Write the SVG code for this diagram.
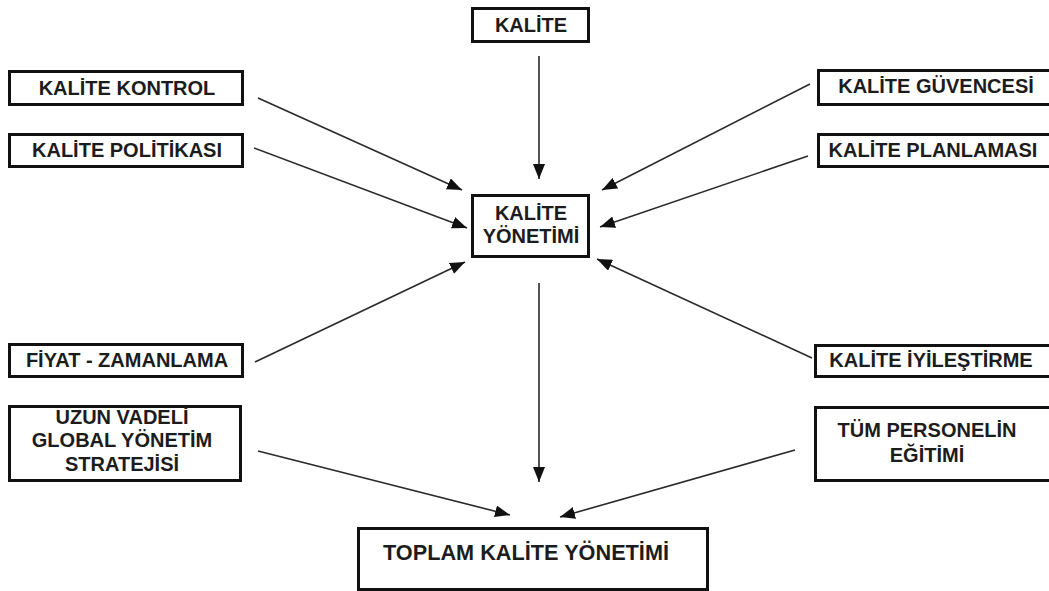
<svg xmlns="http://www.w3.org/2000/svg" width="1049" height="591" viewBox="0 0 1049 591">
  <style>
    .box { fill: #ffffff; stroke: #111111; stroke-width: 3; }
    .lbl { font-family: "Liberation Sans", Arial, sans-serif; font-weight: bold; font-size: 20px; fill: #1c1c1c; text-anchor: middle; }
    .big { font-size: 21.7px; }
    .edge { stroke: #2a2a2a; stroke-width: 1.6; fill: none; marker-end: url(#arrow); }
  </style>
  <defs>
    <marker id="arrow" markerUnits="userSpaceOnUse" markerWidth="16" markerHeight="12" refX="15" refY="6" orient="auto">
      <path d="M0,0 L15,6 L0,12 z" fill="#111111"/>
    </marker>
  </defs>
  <rect width="1049" height="591" fill="#ffffff"/>

  <!-- connectors -->
  <g id="connectors">
    <line class="edge" x1="539" y1="56" x2="539" y2="179"/>
    <line class="edge" x1="258" y1="98" x2="462" y2="190"/>
    <line class="edge" x1="254" y1="148" x2="467" y2="228"/>
    <line class="edge" x1="810" y1="84" x2="602" y2="190"/>
    <line class="edge" x1="808" y1="156" x2="600" y2="227"/>
    <line class="edge" x1="255" y1="362" x2="465" y2="262"/>
    <line class="edge" x1="812" y1="358" x2="597" y2="259"/>
    <line class="edge" x1="539" y1="283" x2="539" y2="482"/>
    <line class="edge" x1="258" y1="451" x2="510" y2="515"/>
    <line class="edge" x1="795" y1="450" x2="560" y2="517"/>
  </g>

  <!-- nodes -->
  <g id="kalite">
    <rect class="box" x="472.5" y="8.5" width="116" height="33"/>
    <text class="lbl" x="531" y="32">KALİTE</text>
  </g>
  <g id="kalite-kontrol">
    <rect class="box" x="9.5" y="71.5" width="233" height="33"/>
    <text class="lbl" x="127" y="95">KALİTE KONTROL</text>
  </g>
  <g id="kalite-politikasi">
    <rect class="box" x="9.5" y="134.5" width="233" height="32"/>
    <text class="lbl" x="127" y="157">KALİTE POLİTİKASI</text>
  </g>
  <g id="kalite-guvencesi">
    <rect class="box" x="818.5" y="70.5" width="232" height="34"/>
    <text class="lbl" x="936" y="93">KALİTE GÜVENCESİ</text>
  </g>
  <g id="kalite-planlamasi">
    <rect class="box" x="818.5" y="134.5" width="232" height="32"/>
    <text class="lbl" x="933" y="157">KALİTE PLANLAMASI</text>
  </g>
  <g id="kalite-yonetimi">
    <rect class="box" x="472.5" y="195.5" width="116" height="61"/>
    <text class="lbl" x="531" y="220">KALİTE</text>
    <text class="lbl" x="531" y="243">YÖNETİMİ</text>
  </g>
  <g id="fiyat-zamanlama">
    <rect class="box" x="9.5" y="344.5" width="233" height="32"/>
    <text class="lbl" x="127" y="367">FİYAT - ZAMANLAMA</text>
  </g>
  <g id="kalite-iyilestirme">
    <rect class="box" x="815.5" y="345.5" width="235" height="31"/>
    <text class="lbl" x="931" y="367">KALİTE İYİLEŞTİRME</text>
  </g>
  <g id="uzun-vadeli">
    <rect class="box" x="9.5" y="406.5" width="231" height="74"/>
    <text class="lbl" x="122" y="424">UZUN VADELİ</text>
    <text class="lbl" x="122" y="447">GLOBAL YÖNETİM</text>
    <text class="lbl" x="122" y="471">STRATEJİSİ</text>
  </g>
  <g id="tum-personelin">
    <rect class="box" x="815.5" y="407.5" width="235" height="73"/>
    <text class="lbl" x="927" y="437">TÜM PERSONELİN</text>
    <text class="lbl" x="927" y="462">EĞİTİMİ</text>
  </g>
  <g id="toplam-kalite-yonetimi">
    <rect class="box" x="358.5" y="528.5" width="349" height="61"/>
    <text class="lbl big" x="526" y="560">TOPLAM KALİTE YÖNETİMİ</text>
  </g>
</svg>
